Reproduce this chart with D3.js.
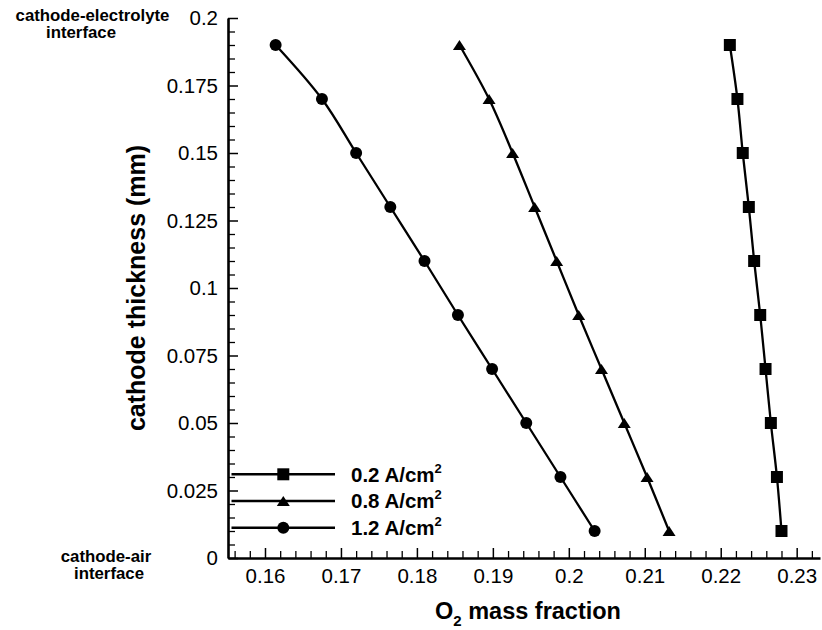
<!DOCTYPE html>
<html>
<head>
<meta charset="utf-8">
<script src="https://cdn.jsdelivr.net/npm/d3@7"></script>
<style>
  html, body { margin: 0; padding: 0; background: #fff; }
  svg { display: block; font-family: "Liberation Sans", Arial, Helvetica, sans-serif; }
</style>
</head>
<body>
<svg id="chart" width="822" height="630"></svg>
<script>
// ---- data ----
const thickness = [0.01, 0.03, 0.05, 0.07, 0.09, 0.11, 0.13, 0.15, 0.17, 0.19];
const o2_02 = [0.2280, 0.2274, 0.2266, 0.2259, 0.2252, 0.2244, 0.2237, 0.2229, 0.2222, 0.2212];
const o2_08 = [0.2132, 0.2103, 0.2073, 0.2043, 0.2013, 0.1984, 0.1955, 0.1926, 0.1895, 0.1856];
const o2_12 = [0.2034, 0.1989, 0.1944, 0.1899, 0.1854, 0.1810, 0.1765, 0.1720, 0.1675, 0.1614];
const seriesNames = ["0.2 A/cm", "0.8 A/cm", "1.2 A/cm"];
const seriesSymbols = ["square", "triangle", "circle"];
const xTickLabels = ["0.16", "0.17", "0.18", "0.19", "0.2", "0.21", "0.22", "0.23"];
const yTickLabels = ["0", "0.025", "0.05", "0.075", "0.1", "0.125", "0.15", "0.175", "0.2"];
const xMinorTicks = [0.156, 0.158, 0.162, 0.164, 0.166, 0.168, 0.172, 0.174, 0.176, 0.178,
  0.182, 0.184, 0.186, 0.188, 0.192, 0.194, 0.196, 0.198, 0.202, 0.204, 0.206, 0.208,
  0.212, 0.214, 0.216, 0.218, 0.222, 0.224, 0.226, 0.228, 0.232];
const yMinorTicks = [0.005, 0.01, 0.015, 0.02, 0.03, 0.035, 0.04, 0.045, 0.055, 0.06, 0.065, 0.07,
  0.08, 0.085, 0.09, 0.095, 0.105, 0.11, 0.115, 0.12, 0.13, 0.135, 0.14, 0.145,
  0.155, 0.16, 0.165, 0.17, 0.18, 0.185, 0.19, 0.195];

const seriesValues = [o2_02, o2_08, o2_12];

// ---- layout ----
const svg = d3.select("#chart");
const x = d3.scaleLinear().domain([0.15513, 0.23307]).range([228, 820]);
const y = d3.scaleLinear().domain([0, 0.2]).range([558, 18]);
const axisColor = "#000";

// minor ticks
svg.append("g").attr("transform", `translate(0,${y(0)})`)
  .call(d3.axisBottom(x).tickValues(xMinorTicks).tickSize(-7).tickSizeOuter(0).tickFormat(""))
  .call(g => g.select(".domain").remove())
  .call(g => g.selectAll("line").attr("stroke", axisColor).attr("stroke-width", 1.3));
svg.append("g").attr("transform", `translate(${x.range()[0]},0)`)
  .call(d3.axisLeft(y).tickValues(yMinorTicks).tickSize(-7).tickSizeOuter(0).tickFormat(""))
  .call(g => g.select(".domain").remove())
  .call(g => g.selectAll("line").attr("stroke", axisColor).attr("stroke-width", 1.3));

// major ticks + labels
const xAxis = svg.append("g").attr("transform", `translate(0,${y(0)})`)
  .call(d3.axisBottom(x).tickValues(xTickLabels.map(Number)).tickSize(-10).tickSizeOuter(0)
    .tickPadding(10).tickFormat((d, i) => xTickLabels[i]));
xAxis.selectAll("line").attr("stroke", axisColor).attr("stroke-width", 1.5);
xAxis.selectAll("text").attr("font-size", 20.5).attr("fill", "#000")
  .attr("font-family", '"Liberation Sans", Arial, sans-serif').attr("dy", "0.75em");
xAxis.select(".domain").attr("stroke", axisColor).attr("stroke-width", 2.6);

const yAxis = svg.append("g").attr("transform", `translate(${x.range()[0]},0)`)
  .call(d3.axisLeft(y).tickValues(yTickLabels.map(Number)).tickSize(-10).tickSizeOuter(0)
    .tickPadding(10).tickFormat((d, i) => yTickLabels[i]));
yAxis.selectAll("line").attr("stroke", axisColor).attr("stroke-width", 1.5);
yAxis.selectAll("text").attr("font-size", 20.5).attr("fill", "#000")
  .attr("font-family", '"Liberation Sans", Arial, sans-serif');
yAxis.select(".domain").attr("stroke", axisColor).attr("stroke-width", 2.6);

// ---- series ----
const line = d3.line().curve(d3.curveCatmullRom.alpha(0.5));
function symbolPath(type, s) {
  if (type === "square") return `M${-s/2},${-s/2}h${s}v${s}h${-s}Z`;
  if (type === "triangle") { const h = s * 0.85; return `M0,${-h/2}L${s/2+0.5},${h/2}L${-s/2-0.5},${h/2}Z`; }
  const r = s / 2; return `M${r},0A${r},${r},0,1,1,${-r},0A${r},${r},0,1,1,${r},0Z`;
}
seriesValues.forEach((vals, k) => {
  const pts = vals.map((v, i) => [x(v), y(thickness[i])]);
  svg.append("path").attr("d", line(pts)).attr("fill", "none")
    .attr("stroke", "#000").attr("stroke-width", 2.3);
  svg.append("g").selectAll("path").data(pts).join("path")
    .attr("transform", d => `translate(${d[0]},${d[1]})`)
    .attr("d", symbolPath(seriesSymbols[k], 12)).attr("fill", "#000");
});

// ---- legend ----
const legendRows = [474.3, 501, 527.7];
seriesNames.forEach((name, k) => {
  const ly = legendRows[k];
  svg.append("line").attr("x1", 231.5).attr("x2", 335).attr("y1", ly).attr("y2", ly)
    .attr("stroke", "#000").attr("stroke-width", 2.5);
  svg.append("path").attr("transform", `translate(283.3,${ly})`)
    .attr("d", symbolPath(seriesSymbols[k], 12)).attr("fill", "#000");
  const t = svg.append("text").attr("x", 351).attr("y", ly + 7.3)
    .attr("font-size", 20.5).attr("font-weight", "bold").attr("fill", "#000");
  t.append("tspan").text(name);
  t.append("tspan").attr("font-size", 13).attr("dy", -9).text("2");
});

// ---- axis titles ----
const xt = svg.append("text").attr("x", 528).attr("y", 619).attr("text-anchor", "middle")
  .attr("font-size", 23.5).attr("font-weight", "bold").attr("fill", "#000");
xt.append("tspan").text("O");
xt.append("tspan").attr("font-size", 15).attr("dy", 7).text("2");
xt.append("tspan").attr("dy", -7).text(" mass fraction");

svg.append("text").attr("transform", "translate(145,288) rotate(-90)")
  .attr("text-anchor", "middle").attr("font-size", 25).attr("font-weight", "bold")
  .attr("fill", "#000").text("cathode thickness (mm)");

// ---- corner annotations (two-line labels) ----
const annotations = [
  [{ t: "cathode-electrolyte", x: 92.5, y: 20.5 }, { t: "interface", x: 81, y: 38 }],
  [{ t: "cathode-air", x: 106, y: 561.7 }, { t: "interface", x: 109, y: 579.3 }]
];
annotations.forEach(lines => {
  const t = svg.append("text").attr("text-anchor", "middle")
    .attr("font-size", 16.8).attr("font-weight", "bold").attr("fill", "#000");
  lines.forEach(l => t.append("tspan").attr("x", l.x).attr("y", l.y).text(l.t));
});
</script>
</body>
</html>
